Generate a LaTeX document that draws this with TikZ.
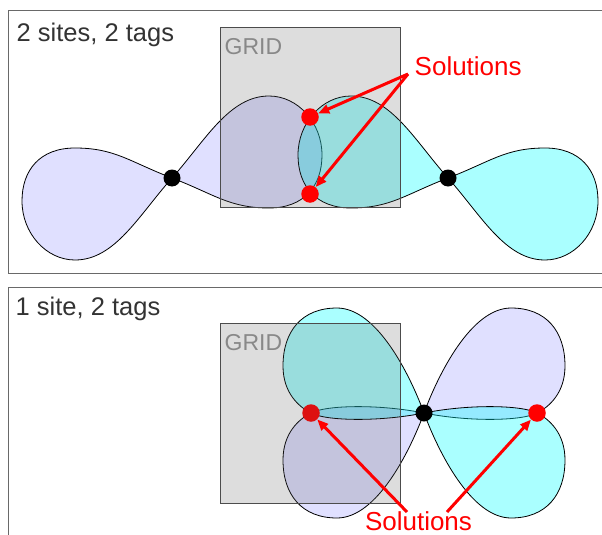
\documentclass[tikz,border=0pt]{standalone}
\usepackage{fontspec}
\setmainfont{Liberation Sans}
\usetikzlibrary{arrows.meta}
\definecolor{lavc}{RGB}{0,0,255}
\definecolor{cyanc}{RGB}{0,255,255}
\definecolor{gridc}{RGB}{85,85,85}
\definecolor{framec}{RGB}{105,105,105}
\definecolor{txtc}{RGB}{51,51,51}
\definecolor{gridtxt}{RGB}{136,136,136}
\definecolor{solred}{RGB}{255,0,0}
\newcommand\lobeA{(0,0) .. controls (33,-37) and (57,-82) .. (97,-82) .. controls (126,-82) and (150,-55) .. (150,-23) .. controls (150,8) and (132,30) .. (97,30) .. controls (57,30) and (42,16) .. (0,0) -- cycle}
\newcommand\lobeB{(0,0) .. controls (-14,-38) and (-47,-105) .. (-87,-105) .. controls (-122,-105) and (-141,-82) .. (-141,-47) .. controls (-141,-20) and (-125,-6) .. (-113,0) .. controls (-98,8) and (-45,9) .. (0,0) -- cycle}
\tikzset{
  lobe/.style={draw=black, line width=0.8pt},
  lavlobe/.style={lobe, fill=lavc, fill opacity=0.12},
  cyanlobe/.style={lobe, fill=cyanc, fill opacity=0.333},
  gridbox/.style={draw=black!70, line width=1pt, fill=gridc, fill opacity=0.2, minimum width=180pt, minimum height=180pt, inner sep=0pt, outer sep=0pt},
  reddot/.style={circle, fill=solred, minimum size=17.5pt, inner sep=0pt},
  blackdot/.style={circle, fill=black, minimum size=17pt, inner sep=0pt},
  solarrow/.style={draw=solred, line width=3pt, -{Triangle[length=11pt,width=9pt]}},
  panel/.style={draw=framec, line width=1.3pt},
  lbl/.style={anchor=base west, inner sep=0pt, text=txtc, font=\fontsize{25.5}{30}\selectfont},
  gridlbl/.style={anchor=base west, inner sep=0pt, text=gridtxt, font=\fontsize{23}{27}\selectfont},
  sollbl/.style={anchor=base west, inner sep=0pt, text=solred, font=\fontsize{26}{30}\selectfont}
}
\begin{document}
\begin{tikzpicture}[x=1pt,y=-1pt]
\useasboundingbox (0,0) rectangle (602,535);
\clip (0,0) rectangle (602,535);
\fill[white] (0,0) rectangle (602,535);
% ---------- top panel ----------
\draw[panel] (8.5,10.7) rectangle (640,273.3);
\path[lavlobe, shift={(172,178)}] \lobeA;
\path[lavlobe, shift={(172,178)}, rotate=180] \lobeA;
\path[cyanlobe, shift={(448,178)}, xscale=-1] \lobeA;
\path[cyanlobe, shift={(448,178)}, xscale=-1, rotate=180] \lobeA;
\node[gridbox] (g1) at (310,117.3) {};
\node[reddot] (r1) at (310,117) {};
\node[reddot] (r2) at (310,194) {};
\node[blackdot] (s1) at (172,178) {};
\node[blackdot] (s2) at (448,178) {};
\coordinate (t1) at (408,74);
\draw[solarrow] (t1) -- (r1);
\draw[solarrow] (t1) -- (r2);
\node[lbl] (h1) at (16.5,41.7) {2 sites, 2 tags};
\node[gridlbl] (gl1) at (224.5,54.3) {GRID};
\node[sollbl] (sl1) at (414.5,75.7) {Solutions};
% ---------- bottom panel ----------
\draw[panel] (8.5,287.3) rectangle (640,600);
\path[lavlobe, shift={(424,413)}, yscale=-1] \lobeB;
\path[lavlobe, shift={(424,413)}, yscale=-1, rotate=180] \lobeB;
\path[cyanlobe, shift={(424,413)}] \lobeB;
\path[cyanlobe, shift={(424,413)}, rotate=180] \lobeB;
\node[reddot] (r3) at (311,413) {};
\node[gridbox] (g2) at (310,413) {};
\node[reddot] (r4) at (537,413) {};
\node[blackdot] (s3) at (424,413) {};
\coordinate (t2) at (407,512);
\coordinate (t3) at (447,512);
\draw[solarrow] (t2) -- (r3);
\draw[solarrow] (t3) -- (r4);
\node[lbl] (h2) at (15.5,315.7) {1 site, 2 tags};
\node[gridlbl] (gl2) at (224.5,350) {GRID};
\node[sollbl] (sl2) at (364.8,530) {Solutions};
\end{tikzpicture}
\end{document}
